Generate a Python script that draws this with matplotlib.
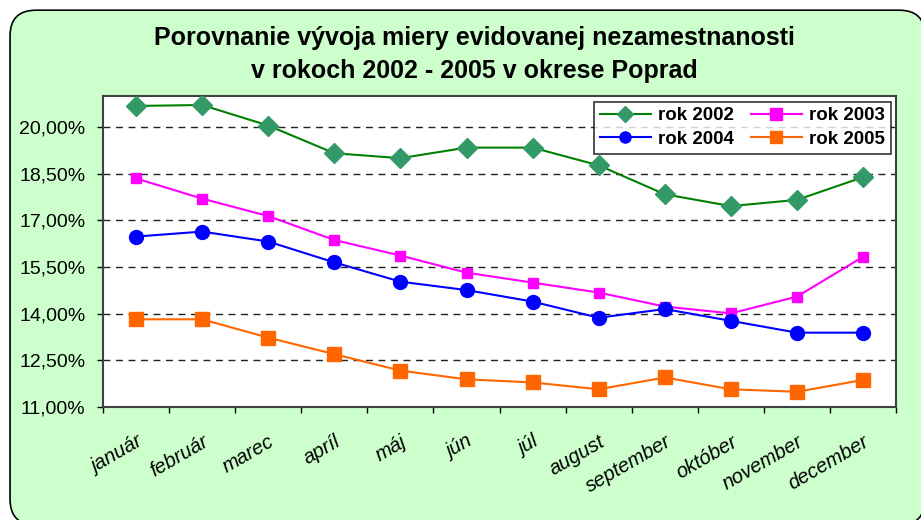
import matplotlib
matplotlib.use('Agg')
import matplotlib.pyplot as plt
from matplotlib.patches import FancyBboxPatch
from matplotlib.ticker import FuncFormatter, FixedLocator, NullFormatter

months = ['január', 'február', 'marec', 'apríl', 'máj', 'jún', 'júl',
          'august', 'september', 'október', 'november', 'december']
rok_2002 = [20.68, 20.71, 20.05, 19.16, 19.00, 19.34, 19.34, 18.77, 17.84, 17.46, 17.66, 18.39]
rok_2003 = [18.35, 17.70, 17.14, 16.37, 15.87, 15.32, 15.00, 14.68, 14.23, 14.01, 14.55, 15.83]
rok_2004 = [16.48, 16.64, 16.32, 15.65, 15.03, 14.76, 14.39, 13.87, 14.15, 13.77, 13.39, 13.39]
rok_2005 = [13.82, 13.82, 13.23, 12.70, 12.17, 11.89, 11.79, 11.57, 11.95, 11.57, 11.49, 11.87]
yticks = [11.0, 12.5, 14.0, 15.5, 17.0, 18.5, 20.0]

plt.rcParams['font.family'] = ['Liberation Sans', 'DejaVu Sans']

fig = plt.figure(figsize=(9.21, 5.2), dpi=100)
fig.patch.set_facecolor('white')
# green rounded panel, runs off the right and bottom edge like the original
panel = FancyBboxPatch((0.0109, -0.0096), 0.9935, 0.990, boxstyle='round,pad=0,rounding_size=0.028',
                       transform=fig.transFigure, facecolor='#CCFFCC', edgecolor='black', lw=1.2,
                       mutation_aspect=921/520, zorder=-5)
fig.patches.append(panel)

fig.text(0.515, 0.926, 'Porovnanie vývoja miery evidovanej nezamestnanosti',
         ha='center', va='center', fontsize=18, fontweight='bold')
fig.text(0.515, 0.864, 'v rokoch 2002 - 2005 v okrese Poprad',
         ha='center', va='center', fontsize=18, fontweight='bold')

ax = fig.add_axes([0.1118, 0.2173, 0.8612, 0.5981])
ax.set_facecolor('white')
x = list(range(len(months)))

l02, = ax.plot(x, rok_2002, color='#008000', lw=1.5, marker='D', ms=10, mfc='#339966', mec='#339966', label='rok 2002', zorder=3)
l03, = ax.plot(x, rok_2003, color='#FF00FF', lw=1.5, marker='s', ms=7, mfc='#FF00FF', mec='#FF00FF', label='rok 2003', zorder=3)
l04, = ax.plot(x, rok_2004, color='#0000FF', lw=1.5, marker='o', ms=10, mfc='#0000FF', mec='#0000FF', label='rok 2004', zorder=3)
l05, = ax.plot(x, rok_2005, color='#FF6600', lw=1.5, marker='s', ms=10, mfc='#FF6600', mec='#FF6600', label='rok 2005', zorder=3)

ax.set_xlim(-0.5, 11.5)
ax.set_ylim(11, 21)
ax.set_yticks(yticks)
ax.yaxis.set_major_formatter(FuncFormatter(lambda v, p: f'{v:.2f}'.replace('.', ',') + '%'))
ax.tick_params(axis='y', labelsize=14, length=4.5, direction='out', width=1, pad=8)
for yt in yticks[1:]:
    ax.axhline(yt, color='#222222', lw=1, ls=(0, (5, 4)), zorder=1)

ax.xaxis.set_major_locator(FixedLocator([i - 0.5 for i in range(13)]))
ax.xaxis.set_major_formatter(NullFormatter())
ax.xaxis.set_minor_locator(FixedLocator(x))
ax.set_xticklabels(months, minor=True, rotation=30, ha='right', va='top',
                   rotation_mode='anchor', fontsize=14.5, style='italic')
ax.tick_params(axis='x', which='minor', length=0, pad=18)
ax.tick_params(axis='x', which='major', length=4.5, direction='out', width=1)

for s in ax.spines.values():
    s.set_color('#404040')
    s.set_linewidth(1.5)

leg = ax.legend([l02, l04, l03, l05], ['rok 2002', 'rok 2004', 'rok 2003', 'rok 2005'],
                ncol=2, loc='upper right', prop={'weight': 'bold', 'size': 13.5},
                frameon=True, fancybox=False, edgecolor='black', borderaxespad=0.3,
                handlelength=2.7, columnspacing=0.9, labelspacing=0.35, borderpad=0.3,
                handletextpad=0.4)
leg.get_frame().set_linewidth(1.2)
for h in leg.legend_handles:
    h.set_markersize(8)

fig.savefig('out.png', dpi=100, facecolor=fig.get_facecolor())
